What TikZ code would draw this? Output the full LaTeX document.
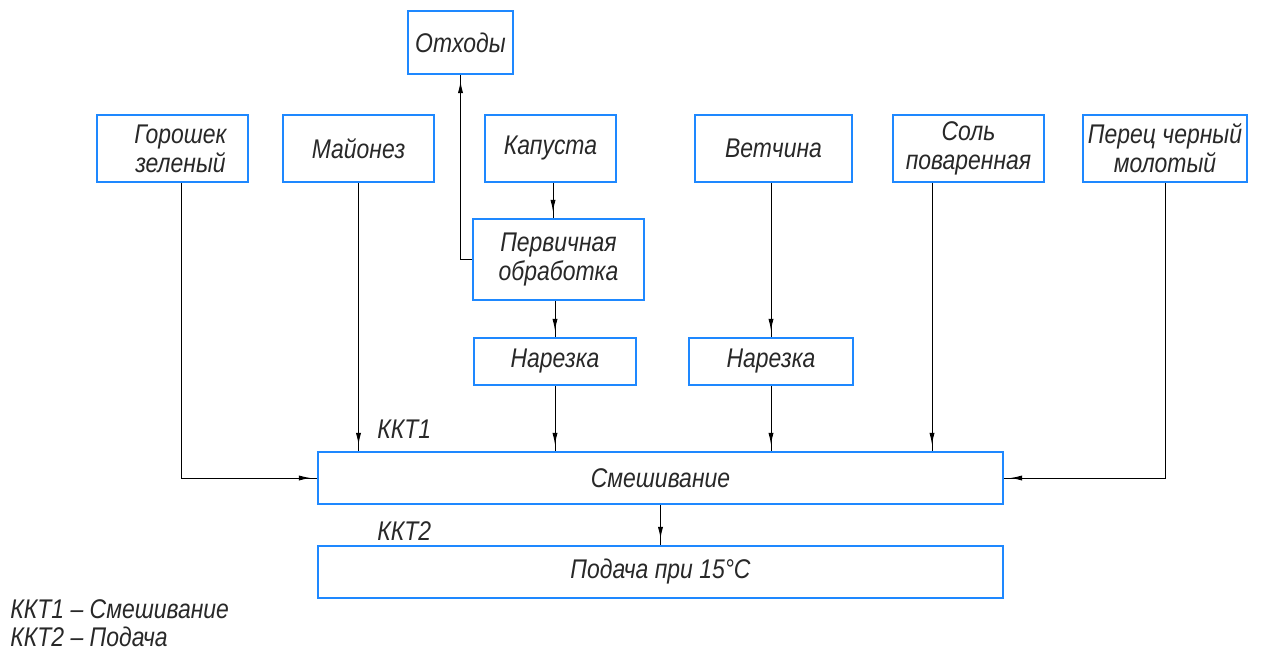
\documentclass[tikz,border=0pt]{standalone}
\usepackage{fontspec}
\setmainfont{Liberation Sans}[FakeStretch=0.85]
\usetikzlibrary{arrows.meta,decorations.markings}
\definecolor{boxblue}{RGB}{30,136,255}
\definecolor{ink}{RGB}{40,40,40}
\begin{document}
\begin{tikzpicture}[x=0.5pt,y=-0.5pt,
  font=\fontsize{13.5}{14.5}\selectfont\itshape,
  box/.style={draw=boxblue,line width=1.2pt,inner sep=0pt,align=center,text=ink},
  lbl/.style={inner sep=0pt,text=ink,anchor=west},
  link/.style={draw=black,line width=0.5pt},
  arr/.style={link,postaction={decorate},decoration={markings,
     mark=at position -3pt with {\arrow{Latex[length=6pt,width=2.6pt]}}}}]
\useasboundingbox (0,0) rectangle (1263,653);

% ingredient boxes
\node[box,minimum width=52.5pt,minimum height=31.5pt] (otx) at (460.5,42.5) {Отходы};
\node[box,minimum width=75.5pt,minimum height=33.5pt] (gor) at (172.5,148.5) {\hspace*{8pt}Горошек\\\hspace*{8pt}зеленый};
\node[box,minimum width=75.5pt,minimum height=33.5pt] (may) at (358.5,148.5) {Майонез};
\node[box,minimum width=65.5pt,minimum height=33.5pt] (kap) at (550.5,148.5) {Капуста};
\node[box,minimum width=78.5pt,minimum height=33.5pt] (vet) at (773.5,148.5) {Ветчина};
\node[box,minimum width=75.5pt,minimum height=33.5pt] (sol) at (968.5,148.5) {Соль\\поваренная};
\node[box,minimum width=82pt,minimum height=33.5pt] (per) at (1165,148.5) {Перец черный\\молотый};

% processing steps
\node[box,minimum width=85.5pt,minimum height=40.5pt] (perv) at (558.5,259.5) {Первичная\\обработка};
\node[box,minimum width=81pt,minimum height=23.5pt] (nar1) at (555,361.5) {Нарезка};
\node[box,minimum width=82pt,minimum height=23.5pt] (nar2) at (771,361.5) {Нарезка};
\node[box,minimum width=342.5pt,minimum height=26pt] (mix) at (660.5,478) {Смешивание};
\node[box,minimum width=342.5pt,minimum height=26pt] (feed) at (660.5,572) {Подача при 15°C};

% control points and legend
\node[lbl] (kkt1) at (377,429) {ККТ1};
\node[lbl] (kkt2) at (377,531) {ККТ2};
\node[lbl] (leg1) at (10,609) {ККТ1 – Смешивание};
\node[lbl] (leg2) at (10,637) {ККТ2 – Подача};

% flows
\draw[arr] ([xshift=4.25pt]gor.south) |- (mix.west);
\draw[arr] (may.south) -- (may.south |- mix.north);
\draw[arr] ([xshift=1.25pt]kap.south) -- ([xshift=1.25pt]kap.south |- perv.north);
\draw[arr] (perv.west) -| (otx.south);
\draw[arr] (nar1.north |- perv.south) -- (nar1.north);
\draw[arr] (nar1.south) -- (nar1.south |- mix.north);
\draw[arr] (nar2.north |- vet.south) -- (nar2.north);
\draw[arr] (nar2.south) -- (nar2.south |- mix.north);
\draw[arr] ([xshift=-18.25pt]sol.south) -- ([xshift=-18.25pt]sol.south |- mix.north);
\draw[arr] (per.south) |- (mix.east);
\draw[arr] (mix.south) -- (feed.north);
\end{tikzpicture}
\end{document}
